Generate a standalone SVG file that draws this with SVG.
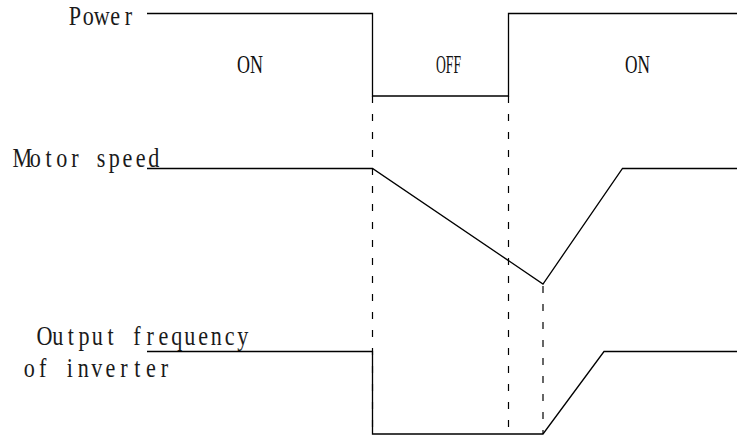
<svg xmlns="http://www.w3.org/2000/svg" width="737" height="439" viewBox="0 0 737 439">
<style>
.lbl{font-family:"Liberation Serif",serif;font-size:27px;fill:#1a1a1a;text-anchor:middle}
.st{font-family:"Liberation Serif",serif;font-size:25px;fill:#111}
.sig{fill:none;stroke:#000;stroke-width:1.3}
.dash{fill:none;stroke:#000;stroke-width:1.2;stroke-dasharray:7 11}
</style>
<rect width="737" height="439" fill="#fff"/>
<g id="labels">
<text class="lbl" transform="scale(0.82 1)" x="91.22 107.59 123.96 140.33 156.7" y="25">Power</text>
<text class="lbl" transform="scale(0.82 1)" x="27.12 43.16 59.2 75.24 91.28 107.32 123.36 139.4 155.43 171.47 187.51" y="167" xml:space="preserve">Motor speed</text>
<text class="lbl" transform="scale(0.82 1)" x="54.27 70.39 86.52 102.63 118.76 134.88 151 167.12 183.25 199.37 215.49 231.61 247.73 263.85 279.98 296.1" y="345" xml:space="preserve">Output frequency</text>
<text class="lbl" transform="scale(0.82 1)" x="35.61 52.11 68.6 85.1 101.6 118.1 134.6 151.09 167.59 184.09 200.59" y="377" xml:space="preserve">of inverter</text>
<text class="st" x="237" y="73" textLength="26" lengthAdjust="spacingAndGlyphs">ON</text>
<text class="st" x="436" y="73" textLength="25" lengthAdjust="spacingAndGlyphs">OFF</text>
<text class="st" x="625" y="73" textLength="25" lengthAdjust="spacingAndGlyphs">ON</text>
</g>
<g id="connectors">
<path id="power" class="sig" d="M147 13.5H372.5V96H508.5V13.5H737"/>
<path id="speed" class="sig" d="M147 168.5H372.5L543 284L622.5 168.5H737"/>
<path id="freq" class="sig" d="M147 351.5H372.5V434H543L604 351.5H737"/>
<path class="dash" d="M372.5 96V434"/>
<path class="dash" d="M508.5 96V434"/>
<path class="dash" d="M543 286V434"/>
</g>
</svg>
